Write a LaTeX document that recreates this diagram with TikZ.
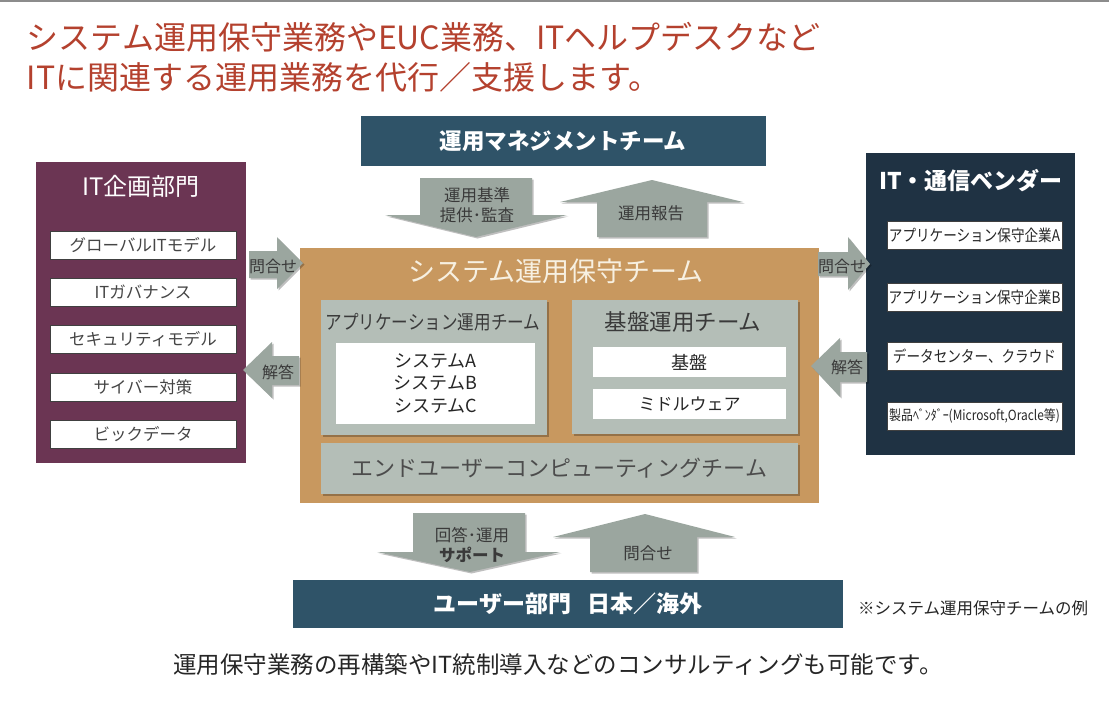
\documentclass[tikz,border=0pt]{standalone}
\usepackage{fontspec}
\setmainfont{Noto Sans CJK JP}
\newfontfamily\jp{Noto Sans CJK JP}
\newfontfamily\jpc{Noto Sans CJK JP}[FakeStretch=0.85]
\usetikzlibrary{shadows}
\definecolor{titlered}{HTML}{B4412E}
\definecolor{plum}{HTML}{6B3553}
\definecolor{navyR}{HTML}{1F3243}
\definecolor{steel}{HTML}{2F5368}
\definecolor{tanbox}{HTML}{C8985F}
\definecolor{sage}{HTML}{B4BEB7}
\definecolor{arrowg}{HTML}{9BA69F}
\definecolor{cream}{HTML}{F7F0E1}
\definecolor{txt}{HTML}{3A3A3A}
\definecolor{ltxt}{HTML}{454545}
\newcommand\myfs[2]{\fontsize{#1pt}{#2pt}\selectfont}
\tikzset{
  box/.style={inner sep=0pt, outer sep=0pt, anchor=north west},
  lbl/.style={inner sep=0pt, outer sep=0pt, align=center},
  itembox/.style={box, fill=white, draw=black!75, line width=0.8pt},
  softshadow/.style={drop shadow={shadow xshift=1.5pt, shadow yshift=-1.5pt, opacity=0.25, fill=black}},
  blockarrow/.style={fill=arrowg, softshadow},
}
\begin{document}
\begin{tikzpicture}[x=1pt, y=-1pt]
\useasboundingbox (0,0) rectangle (1109,702);
\fill[white] (0,0) rectangle (1109,702);
\draw[black!45, line width=2pt] (0,1) -- (1109,1);

% title
\node[lbl, anchor=west, text=titlered, font=\jp\myfs{32}{40}] (t1) at (27,37) {システム運用保守業務やEUC業務、ITヘルプデスクなど};
\node[lbl, anchor=west, text=titlered, font=\jp\myfs{32}{40}] (t2) at (27,77) {ITに関連する運用業務を代行／支援します。};

% management
\node[box, fill=steel, minimum width=405pt, minimum height=50pt] (mgmt) at (361,116) {};
\node[lbl, text=white, font=\jp\bfseries\myfs{22.5}{26}] (mgmtt) at (563,141) {運用マネジメントチーム};

% left department
\node[box, fill=plum, minimum width=210pt, minimum height=301pt] (itp) at (36,162) {};
\node[lbl, text=white, font=\jp\myfs{24}{28}] (itpt) at (141,186) {IT企画部門};
\foreach \yy/\tt/\nm in {231/{グローバルITモデル}/l1, 278/{ITガバナンス}/l2, 325/{セキュリティモデル}/l3, 373/{サイバー対策}/l4, 420/{ビックデータ}/l5}{
  \node[itembox, minimum width=186pt, minimum height=28pt] (\nm) at (50,\yy) {};
  \node[lbl, text=ltxt, font=\jp\myfs{16.5}{20}] at (\nm.center) {\tt};
}

% right vendors
\node[box, fill=navyR, minimum width=209pt, minimum height=302pt] (ven) at (866,153) {};
\node[lbl, text=white, font=\jp\bfseries\myfs{23}{27}] (vent) at (971,181) {IT・通信ベンダー};
\foreach \yy/\tt/\nm/\sz in {221/{アプリケーション保守企業A}/r1/16, 283/{アプリケーション保守企業B}/r2/16, 342/{データセンター、クラウド}/r3/16, 402/{製品ﾍﾞﾝﾀﾞｰ(Microsoft,Oracle等)}/r4/14}{
  \node[itembox, minimum width=175pt, minimum height=28pt] (\nm) at (887,\yy) {};
  \node[lbl, text=black!85, font=\jpc\myfs{\sz}{20}] at (\nm.center) {\tt};
}

% center
\node[box, fill=tanbox, minimum width=519pt, minimum height=255pt] (sys) at (300,248) {};
\node[lbl, text=cream, font=\jp\myfs{27}{31}] (syst) at (556,271) {システム運用保守チーム};

\node[box, fill=sage, softshadow, minimum width=226pt, minimum height=135pt] (app) at (321,300) {};
\node[lbl, text=txt, font=\jpc\myfs{19.5}{23}] (appt) at (433,322) {アプリケーション運用チーム};
\node[box, fill=white, minimum width=199pt, minimum height=81pt] (appw) at (336,343) {};
\node[lbl, text=black!85, font=\jp\myfs{18}{22.5}] (appl) at (appw.center) {システムA\\システムB\\システムC};

\node[box, fill=sage, softshadow, minimum width=226pt, minimum height=134pt] (base) at (572,300) {};
\node[lbl, text=txt, font=\jp\myfs{22.5}{26}] (baset) at (683,322) {基盤運用チーム};
\node[box, fill=white, minimum width=193pt, minimum height=30pt] (b1) at (593,347) {};
\node[lbl, text=black!85, font=\jp\myfs{18}{22}] at (b1.center) {基盤};
\node[box, fill=white, minimum width=193pt, minimum height=30pt] (b2) at (593,389) {};
\node[lbl, text=black!85, font=\jp\myfs{17}{21}] at (b2.center) {ミドルウェア};

\node[box, fill=sage, softshadow, minimum width=477pt, minimum height=51pt] (euc) at (321,443) {};
\node[lbl, text=black!70, font=\jp\myfs{22}{26}] (euct) at (euc.center) {エンドユーザーコンピューティングチーム};

% user dept
\node[box, fill=steel, minimum width=550pt, minimum height=48pt] (user) at (293,580) {};
\node[lbl, text=white, font=\jp\bfseries\myfs{23}{27}] (usert) at (user.center) {ユーザー部門\hspace{0.7em}日本／海外};
\node[lbl, text=black!85, font=\jp\myfs{16.5}{20}] (note) at (973,608) {※システム運用保守チームの例};
\node[lbl, text=black!85, font=\jp\myfs{23.5}{28}] (foot) at (558,665) {運用保守業務の再構築やIT統制導入などのコンサルティングも可能です。};

% block arrows
\fill[blockarrow] (420,178) -- (532,178) -- (532,215) -- (567,215) -- (476,237) -- (385,215) -- (420,215) -- cycle;
\fill[blockarrow] (652,180) -- (743,202) -- (707,202) -- (707,237) -- (597,237) -- (597,202) -- (560,202) -- cycle;
\fill[blockarrow] (413,513) -- (525,513) -- (525,552) -- (560,552) -- (470,572) -- (377,552) -- (413,552) -- cycle;
\fill[blockarrow] (645,514) -- (735,537) -- (697,537) -- (697,572) -- (590,572) -- (590,537) -- (553,537) -- cycle;
\fill[blockarrow] (249,251) -- (277,251) -- (277,237) -- (303,263) -- (277,289) -- (277,278) -- (249,278) -- cycle;
\fill[blockarrow] (243,370) -- (272,342) -- (272,356) -- (299,356) -- (299,385) -- (272,385) -- (272,398) -- cycle;
\fill[blockarrow] (818,252) -- (848,252) -- (848,237) -- (870,264) -- (848,290) -- (848,276) -- (818,276) -- cycle;
\fill[blockarrow] (811,366) -- (840,338) -- (840,352) -- (867,352) -- (867,382) -- (840,382) -- (840,397) -- cycle;

% arrow labels
\node[lbl, text=txt, font=\jp\myfs{16.5}{20}] (a1) at (477,205) {運用基準\\提供･監査};
\node[lbl, text=txt, font=\jp\myfs{16.5}{20}] (a2) at (651,213) {運用報告};
\node[lbl, text=txt, font=\jp\myfs{16.5}{20}] (a3) at (472,545) {回答･運用\\\textbf{サポート}};
\node[lbl, text=txt, font=\jp\myfs{16.5}{20}] (a4) at (648,553) {問合せ};
\node[lbl, text=txt, font=\jp\myfs{16}{20}] (a5) at (273,266) {問合せ};
\node[lbl, text=txt, font=\jp\myfs{16}{20}] (a6) at (278,372) {解答};
\node[lbl, text=txt, font=\jp\myfs{16}{20}] (a7) at (842,266) {問合せ};
\node[lbl, text=txt, font=\jp\myfs{16}{20}] (a8) at (847,367) {解答};
\end{tikzpicture}
\end{document}
